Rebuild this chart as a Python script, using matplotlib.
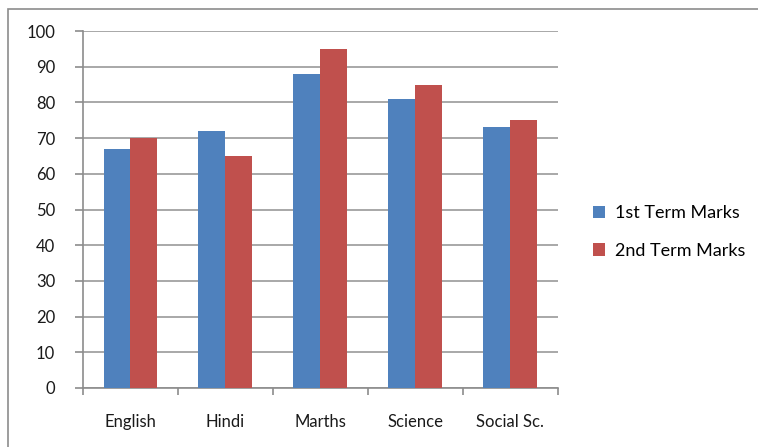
import matplotlib.pyplot as plt
import numpy as np
from matplotlib.patches import Rectangle

# chart data
subjects = ["English", "Hindi", "Marths", "Science", "Social Sc."]
first_term = [67, 72, 88, 81, 73]
second_term = [70, 65, 95, 85, 75]
series_names = ["1st Term Marks", "2nd Term Marks"]
y_ticks = [0, 10, 20, 30, 40, 50, 60, 70, 80, 90, 100]

plt.rcParams["font.family"] = ["Lato", "DejaVu Sans"]

fig = plt.figure(figsize=(7.58, 4.47), dpi=100)
ax = fig.add_axes([83 / 758, 1 - 388 / 447, (557.7 - 83) / 758, (388 - 31) / 447])

# outer chart border (excel style)
fig.patches.append(
    Rectangle((8 / 758, -0.05), 1.2, 1 - 9 / 447 + 0.05, transform=fig.transFigure,
              fill=False, edgecolor="#8c8c8c", linewidth=1.2)
)

x = np.arange(len(subjects))
width = 0.284
ax.bar(x - width / 2, first_term, width, color="#4F81BD", label=series_names[0], zorder=3)
ax.bar(x + width / 2, second_term, width, color="#C0504D", label=series_names[1], zorder=3)

ax.set_xlim(-0.5, len(subjects) - 0.5)
ax.set_ylim(0, 100)
ax.set_yticks(y_ticks)
ax.set_yticklabels([str(v) for v in y_ticks], fontsize=12, color="#1a1a1a")
ax.yaxis.grid(True, color="#9a9a9a", linewidth=1.2, zorder=0)

# category labels in the middle, tick marks on the boundaries
ax.set_xticks(np.arange(len(subjects) + 1) - 0.5)
ax.set_xticklabels([])
ax.set_xticks(x, minor=True)
ax.set_xticklabels(subjects, minor=True, fontsize=12, color="#1a1a1a")
ax.tick_params(axis="x", which="minor", length=0, pad=19)
ax.tick_params(axis="x", which="major", length=5, color="#8c8c8c", width=1.2)
ax.tick_params(axis="y", length=6, color="#8c8c8c", width=1.2, pad=14)

for side in ["top", "right"]:
    ax.spines[side].set_visible(False)
for side in ["left", "bottom"]:
    ax.spines[side].set_color("#8c8c8c")
    ax.spines[side].set_linewidth(1.2)

fig.legend(
    loc="center left",
    bbox_to_anchor=(577 / 758, 1 - 232 / 447),
    frameon=False,
    fontsize=13,
    handlelength=0.65,
    handleheight=0.65,
    handletextpad=0.55,
    labelspacing=1.2,
)

fig.savefig("out.png", dpi=100)
